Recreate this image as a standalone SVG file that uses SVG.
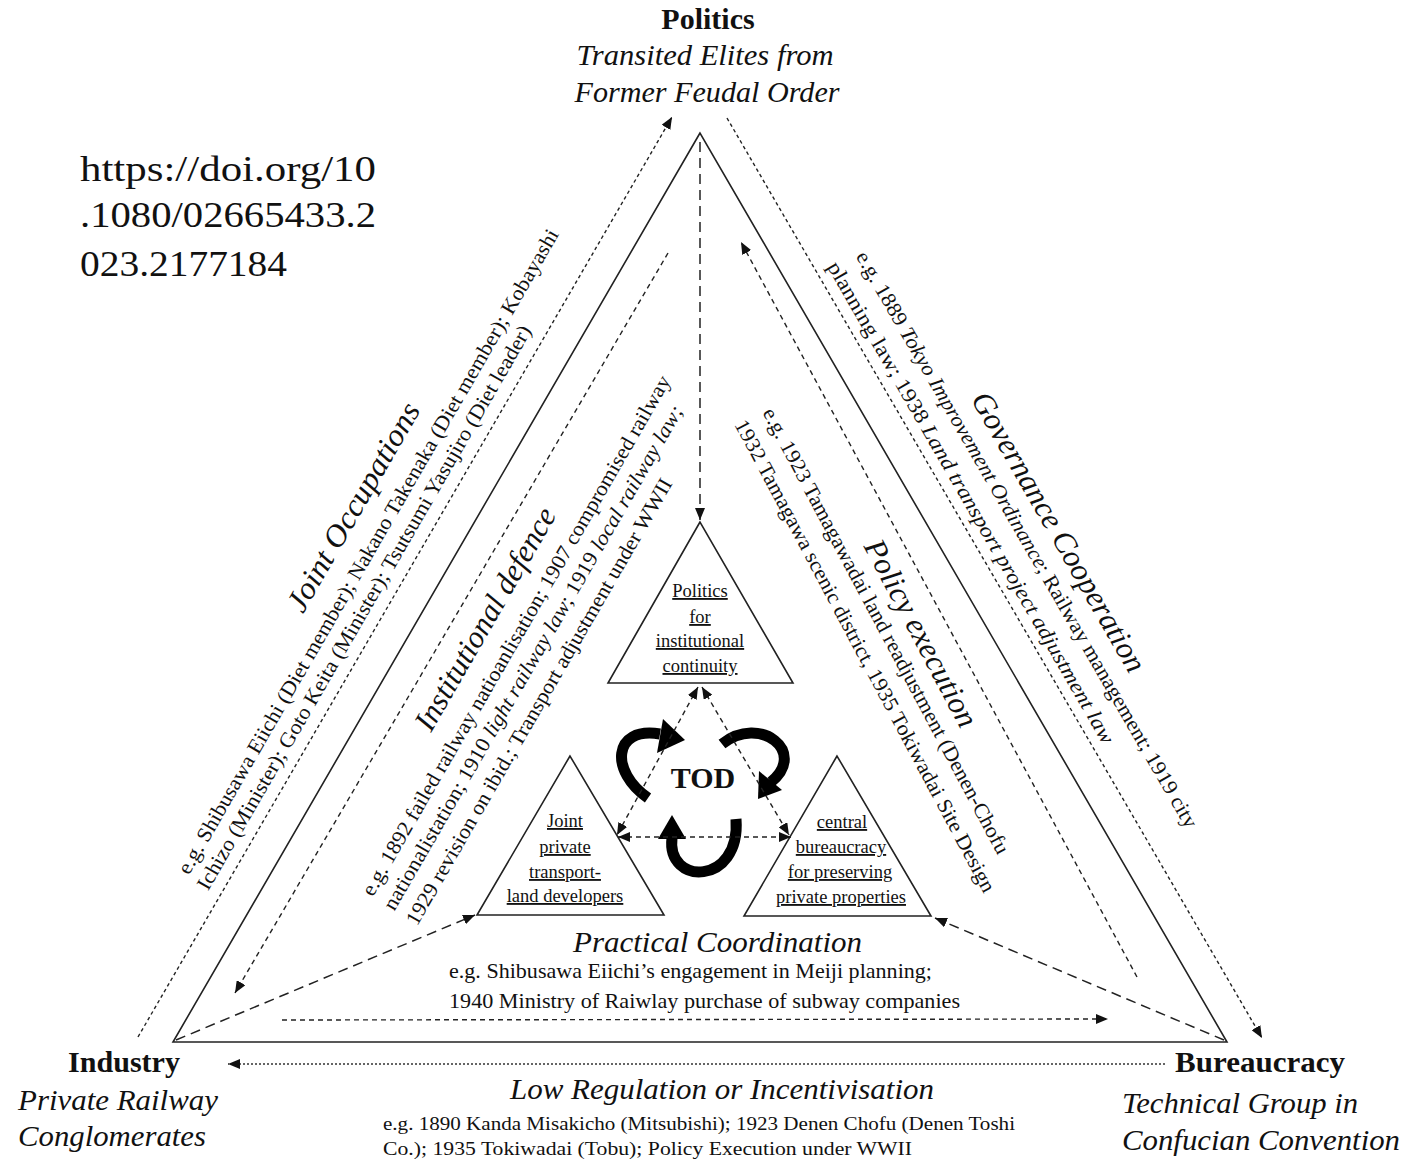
<svg xmlns="http://www.w3.org/2000/svg" width="1406" height="1160" viewBox="0 0 1406 1160">
<style>
.t{font-family:"Liberation Serif","Times New Roman",serif;fill:#111}
.b{font-weight:bold}
.i{font-style:italic}
.h{font-size:30px}
.h31{font-size:31px}
.s{font-size:21px}
.n{font-size:18.5px;text-decoration:underline}
.solid{stroke:#222;stroke-width:1.6;fill:none}
.d1{stroke:#222;stroke-width:1.4;fill:none;stroke-dasharray:3.5 3}
.d2{stroke:#222;stroke-width:1.4;fill:none;stroke-dasharray:5 4}
.d3{stroke:#222;stroke-width:1.5;fill:none;stroke-dasharray:10 6}
.dot{stroke:#333;stroke-width:1.3;fill:none;stroke-dasharray:2 2}
.thick{stroke:#000;stroke-width:11;fill:none}
</style>
<defs>
<marker id="ah" markerUnits="userSpaceOnUse" markerWidth="12" markerHeight="10" refX="12" refY="5" orient="auto-start-reverse">
<path d="M0,0 L12,5 L0,10 z" fill="#111"/>
</marker>
</defs>
<rect width="1406" height="1160" fill="#fff"/>

<g id="doi">
<text class="t" x="80" y="181" font-size="36" textLength="296" lengthAdjust="spacingAndGlyphs">https://doi.org/10</text>
<text class="t" x="80" y="227" font-size="36" textLength="296" lengthAdjust="spacingAndGlyphs">.1080/02665433.2</text>
<text class="t" x="80" y="276" font-size="36" textLength="207" lengthAdjust="spacingAndGlyphs">023.2177184</text>
</g>

<g id="main-triangle">
<polygon class="solid" points="700,133 173,1042 1227,1042"/>
</g>

<g id="node-politics">
<text class="t b h" x="708" y="29" text-anchor="middle">Politics</text>
<text class="t i h" x="705" y="65" text-anchor="middle" textLength="257" lengthAdjust="spacingAndGlyphs">Transited Elites from</text>
<text class="t i h" x="707" y="102" text-anchor="middle" textLength="265" lengthAdjust="spacingAndGlyphs">Former Feudal Order</text>
</g>

<g id="node-industry">
<text class="t b h" x="68" y="1072" textLength="112" lengthAdjust="spacingAndGlyphs">Industry</text>
<text class="t i h" x="18" y="1110" textLength="200" lengthAdjust="spacingAndGlyphs">Private Railway</text>
<text class="t i h" x="18" y="1146" textLength="188" lengthAdjust="spacingAndGlyphs">Conglomerates</text>
</g>

<g id="node-bureaucracy">
<text class="t b h" x="1175" y="1072" textLength="170" lengthAdjust="spacingAndGlyphs">Bureaucracy</text>
<text class="t i h" x="1122" y="1113" textLength="236" lengthAdjust="spacingAndGlyphs">Technical Group in</text>
<text class="t i h" x="1122" y="1150" textLength="278" lengthAdjust="spacingAndGlyphs">Confucian Convention</text>
</g>

<g id="node-politics-inner">
<polygon class="solid" points="700,522 608,683 793,683"/>
<text class="t n" x="700" y="597" text-anchor="middle">Politics</text>
<text class="t n" x="700" y="623" text-anchor="middle">for</text>
<text class="t n" x="700" y="647" text-anchor="middle">institutional</text>
<text class="t n" x="700" y="672" text-anchor="middle">continuity</text>
</g>

<g id="node-developers">
<polygon class="solid" points="570,756 477,915 664,915"/>
<text class="t n" x="565" y="827" text-anchor="middle">Joint</text>
<text class="t n" x="565" y="853" text-anchor="middle">private</text>
<text class="t n" x="565" y="878" text-anchor="middle">transport-</text>
<text class="t n" x="565" y="902" text-anchor="middle">land developers</text>
</g>

<g id="node-central-bureaucracy">
<polygon class="solid" points="837,756 744,916 931,916"/>
<text class="t n" x="842" y="828" text-anchor="middle">central</text>
<text class="t n" x="841" y="853" text-anchor="middle">bureaucracy</text>
<text class="t n" x="840" y="878" text-anchor="middle">for preserving</text>
<text class="t n" x="841" y="903" text-anchor="middle">private properties</text>
</g>

<g id="node-tod">
<text class="t b" x="703" y="788" font-size="30" text-anchor="middle">TOD</text>
<path class="thick" d="M648,798 C610,772 612,726 660,734"/>
<polygon points="685,740 663,719 657,753" fill="#000"/>
<path class="thick" d="M722,744 C760,714 808,752 771,782"/>
<polygon points="758,799 759,771 782,790" fill="#000"/>
<path class="thick" d="M736,819 C741,886 666,886 672,838"/>
<polygon points="672,815 658,839 686,839" fill="#000"/>
</g>

<g id="connectors">
<line class="d1" x1="138" y1="1037" x2="672" y2="117" marker-end="url(#ah)"/>
<line class="d1" x1="727" y1="118" x2="1262" y2="1038" marker-end="url(#ah)"/>
<line class="dot" x1="1165" y1="1064" x2="228" y2="1064" marker-end="url(#ah)"/>
<line class="d2" x1="668" y1="253" x2="235" y2="993" marker-end="url(#ah)"/>
<line class="d2" x1="1137" y1="977" x2="741" y2="242" marker-end="url(#ah)"/>
<line class="d2" x1="282" y1="1020" x2="1108" y2="1019" marker-end="url(#ah)"/>
<line class="d3" x1="700" y1="142" x2="700" y2="520" marker-end="url(#ah)"/>
<line class="d3" x1="176" y1="1040" x2="475" y2="915" marker-end="url(#ah)"/>
<line class="d3" x1="1224" y1="1040" x2="935" y2="918" marker-end="url(#ah)"/>
<line class="d2" x1="698" y1="687" x2="617" y2="835" marker-start="url(#ah)" marker-end="url(#ah)"/>
<line class="d2" x1="702" y1="687" x2="789" y2="835" marker-start="url(#ah)" marker-end="url(#ah)"/>
<line class="d2" x1="618" y1="837" x2="791" y2="837" marker-start="url(#ah)" marker-end="url(#ah)"/>
</g>

<g id="label-joint-occupations">
<text class="t i h31" transform="translate(362,512) rotate(-60)" text-anchor="middle" textLength="236" lengthAdjust="spacingAndGlyphs">Joint Occupations</text>
<text class="t s" transform="translate(374,555) rotate(-60)" text-anchor="middle" textLength="741" lengthAdjust="spacingAndGlyphs">e.g. Shibusawa Eiichi (Diet member); Nakano Takenaka (Diet member); Kobayashi</text>
<text class="t s" transform="translate(370,611) rotate(-60)" text-anchor="middle" textLength="648" lengthAdjust="spacingAndGlyphs">Ichizo (Minister); Goto Keita (Minister); Tsutsumi Yasujiro (Diet leader)</text>
</g>

<g id="label-institutional-defence">
<text class="t i h31" transform="translate(494,624) rotate(-60)" text-anchor="middle" textLength="252" lengthAdjust="spacingAndGlyphs">Institutional defence</text>
<text class="t s" transform="translate(522,639) rotate(-60)" text-anchor="middle" textLength="597" lengthAdjust="spacingAndGlyphs">e.g. 1892 failed railway natioanlisation; 1907 compromised railway</text>
<text class="t s" transform="translate(539,661) rotate(-60)" text-anchor="middle" textLength="579" lengthAdjust="spacingAndGlyphs">nationalistation; 1910 <tspan class="i">light railway law</tspan>; 1919 <tspan class="i">local railway law;</tspan></text>
<text class="t s" transform="translate(545,705) rotate(-60)" text-anchor="middle" textLength="512" lengthAdjust="spacingAndGlyphs">1929 revision on ibid.; Transport adjustment under WWII</text>
</g>

<g id="label-governance-cooperation">
<text class="t i h31" transform="translate(1050,537) rotate(60)" text-anchor="middle" textLength="318" lengthAdjust="spacingAndGlyphs">Governance Cooperation</text>
<text class="t s" transform="translate(1021,543) rotate(60)" text-anchor="middle" textLength="662" lengthAdjust="spacingAndGlyphs">e.g. 1889 <tspan class="i">Tokyo Improvement Ordinance</tspan>; Railway management; 1919 city</text>
<text class="t s" transform="translate(965,506) rotate(60)" text-anchor="middle" textLength="553" lengthAdjust="spacingAndGlyphs">planning law; 1938 <tspan class="i">Land transport project adjustment law</tspan></text>
</g>

<g id="label-policy-execution">
<text class="t i h31" transform="translate(912,638) rotate(62)" text-anchor="middle" textLength="208" lengthAdjust="spacingAndGlyphs">Policy execution</text>
<text class="t s" transform="translate(880,634) rotate(62)" text-anchor="middle" textLength="502" lengthAdjust="spacingAndGlyphs">e.g. 1923 Tamagawadai land readjustment (Denen-Chofu</text>
<text class="t s" transform="translate(859,659) rotate(62)" text-anchor="middle" textLength="532" lengthAdjust="spacingAndGlyphs">1932 Tamagawa scenic district, 1935 Tokiwadai Site Design</text>
</g>

<g id="label-practical-coordination">
<text class="t i h" x="573" y="952" textLength="289" lengthAdjust="spacingAndGlyphs">Practical Coordination</text>
<text class="t" x="449" y="978" font-size="21" textLength="483" lengthAdjust="spacingAndGlyphs">e.g. Shibusawa Eiichi’s engagement in Meiji planning;</text>
<text class="t" x="449" y="1008" font-size="21" textLength="511" lengthAdjust="spacingAndGlyphs">1940 Ministry of Raiwlay purchase of subway companies</text>
</g>

<g id="label-low-regulation">
<text class="t i h" x="510" y="1099" textLength="424" lengthAdjust="spacingAndGlyphs">Low Regulation or Incentivisation</text>
<text class="t" x="383" y="1130" font-size="19.5" textLength="632" lengthAdjust="spacingAndGlyphs">e.g. 1890 Kanda Misakicho (Mitsubishi); 1923 Denen Chofu (Denen Toshi</text>
<text class="t" x="383" y="1155" font-size="19.5" textLength="529" lengthAdjust="spacingAndGlyphs">Co.); 1935 Tokiwadai (Tobu); Policy Execution under WWII</text>
</g>
</svg>
